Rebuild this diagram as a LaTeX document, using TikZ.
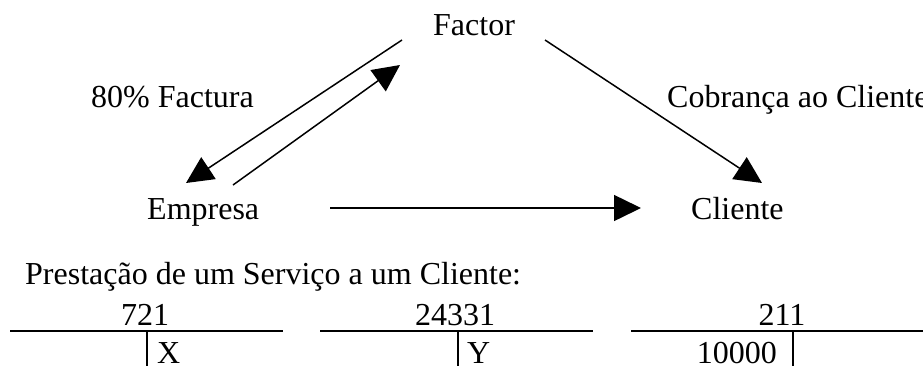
\documentclass[tikz,border=0pt]{standalone}
\usepackage{fontspec}
\setmainfont{Liberation Serif}
\usetikzlibrary{arrows.meta}
\begin{document}
\begin{tikzpicture}[x=1pt,y=-1pt,
  txt/.style={inner sep=0pt,font=\fontsize{32}{38}\selectfont},
  arr/.style={line width=1.5pt,-{Triangle[length=27pt,width=26pt]}},
  tline/.style={line width=2pt}]
\useasboundingbox (0,0) rectangle (923,365);
% diagram nodes
\node[txt,anchor=base west] (factor)  at (433,35)  {Factor};
\node[txt,anchor=base west] (empresa) at (147,219) {Empresa};
\node[txt,anchor=base west] (cliente) at (691,219) {Cliente};
\node[txt,anchor=base west] (lblA) at (91,107)  {80\% Factura};
\node[txt,anchor=base west] (lblB) at (667,107) {Cobrança ao Cliente};
% connectors
\draw[arr] ([shift={(-31,5)}]factor.base west) -- ([shift={(39,-36)}]empresa.base west);
\draw[arr] ([shift={(86,-34)}]empresa.base west) -- ([shift={(-33,30)}]factor.base west);
\draw[arr] ([shift={(112,5)}]factor.base west) -- ([shift={(71,-36)}]cliente.base west);
\draw[arr] ([shift={(183,-11)}]empresa.base west) -- ([shift={(-50,-11)}]cliente.base west);
% T accounts
\node[txt,anchor=base west] (title) at (25,284) {Prestação de um Serviço a um Cliente:};
\node[txt,anchor=base] (a721) at (145,325) {721};
\node[txt,anchor=base] (a24331) at (455,325) {24331};
\node[txt,anchor=base] (a211) at (782,325) {211};
\node[txt,anchor=base west] (vx) at (157,363) {X};
\node[txt,anchor=base west] (vy) at (467,363) {Y};
\node[txt,anchor=base east] (v10000) at (777,363) {10000};
\draw[tline] (10,331) -- (283,331);
\draw[tline] (147,331) -- (147,366);
\draw[tline] (320,331) -- (593,331);
\draw[tline] (458,331) -- (458,366);
\draw[tline] (631,331) -- (924,331);
\draw[tline] (793,331) -- (793,366);
\end{tikzpicture}
\end{document}
